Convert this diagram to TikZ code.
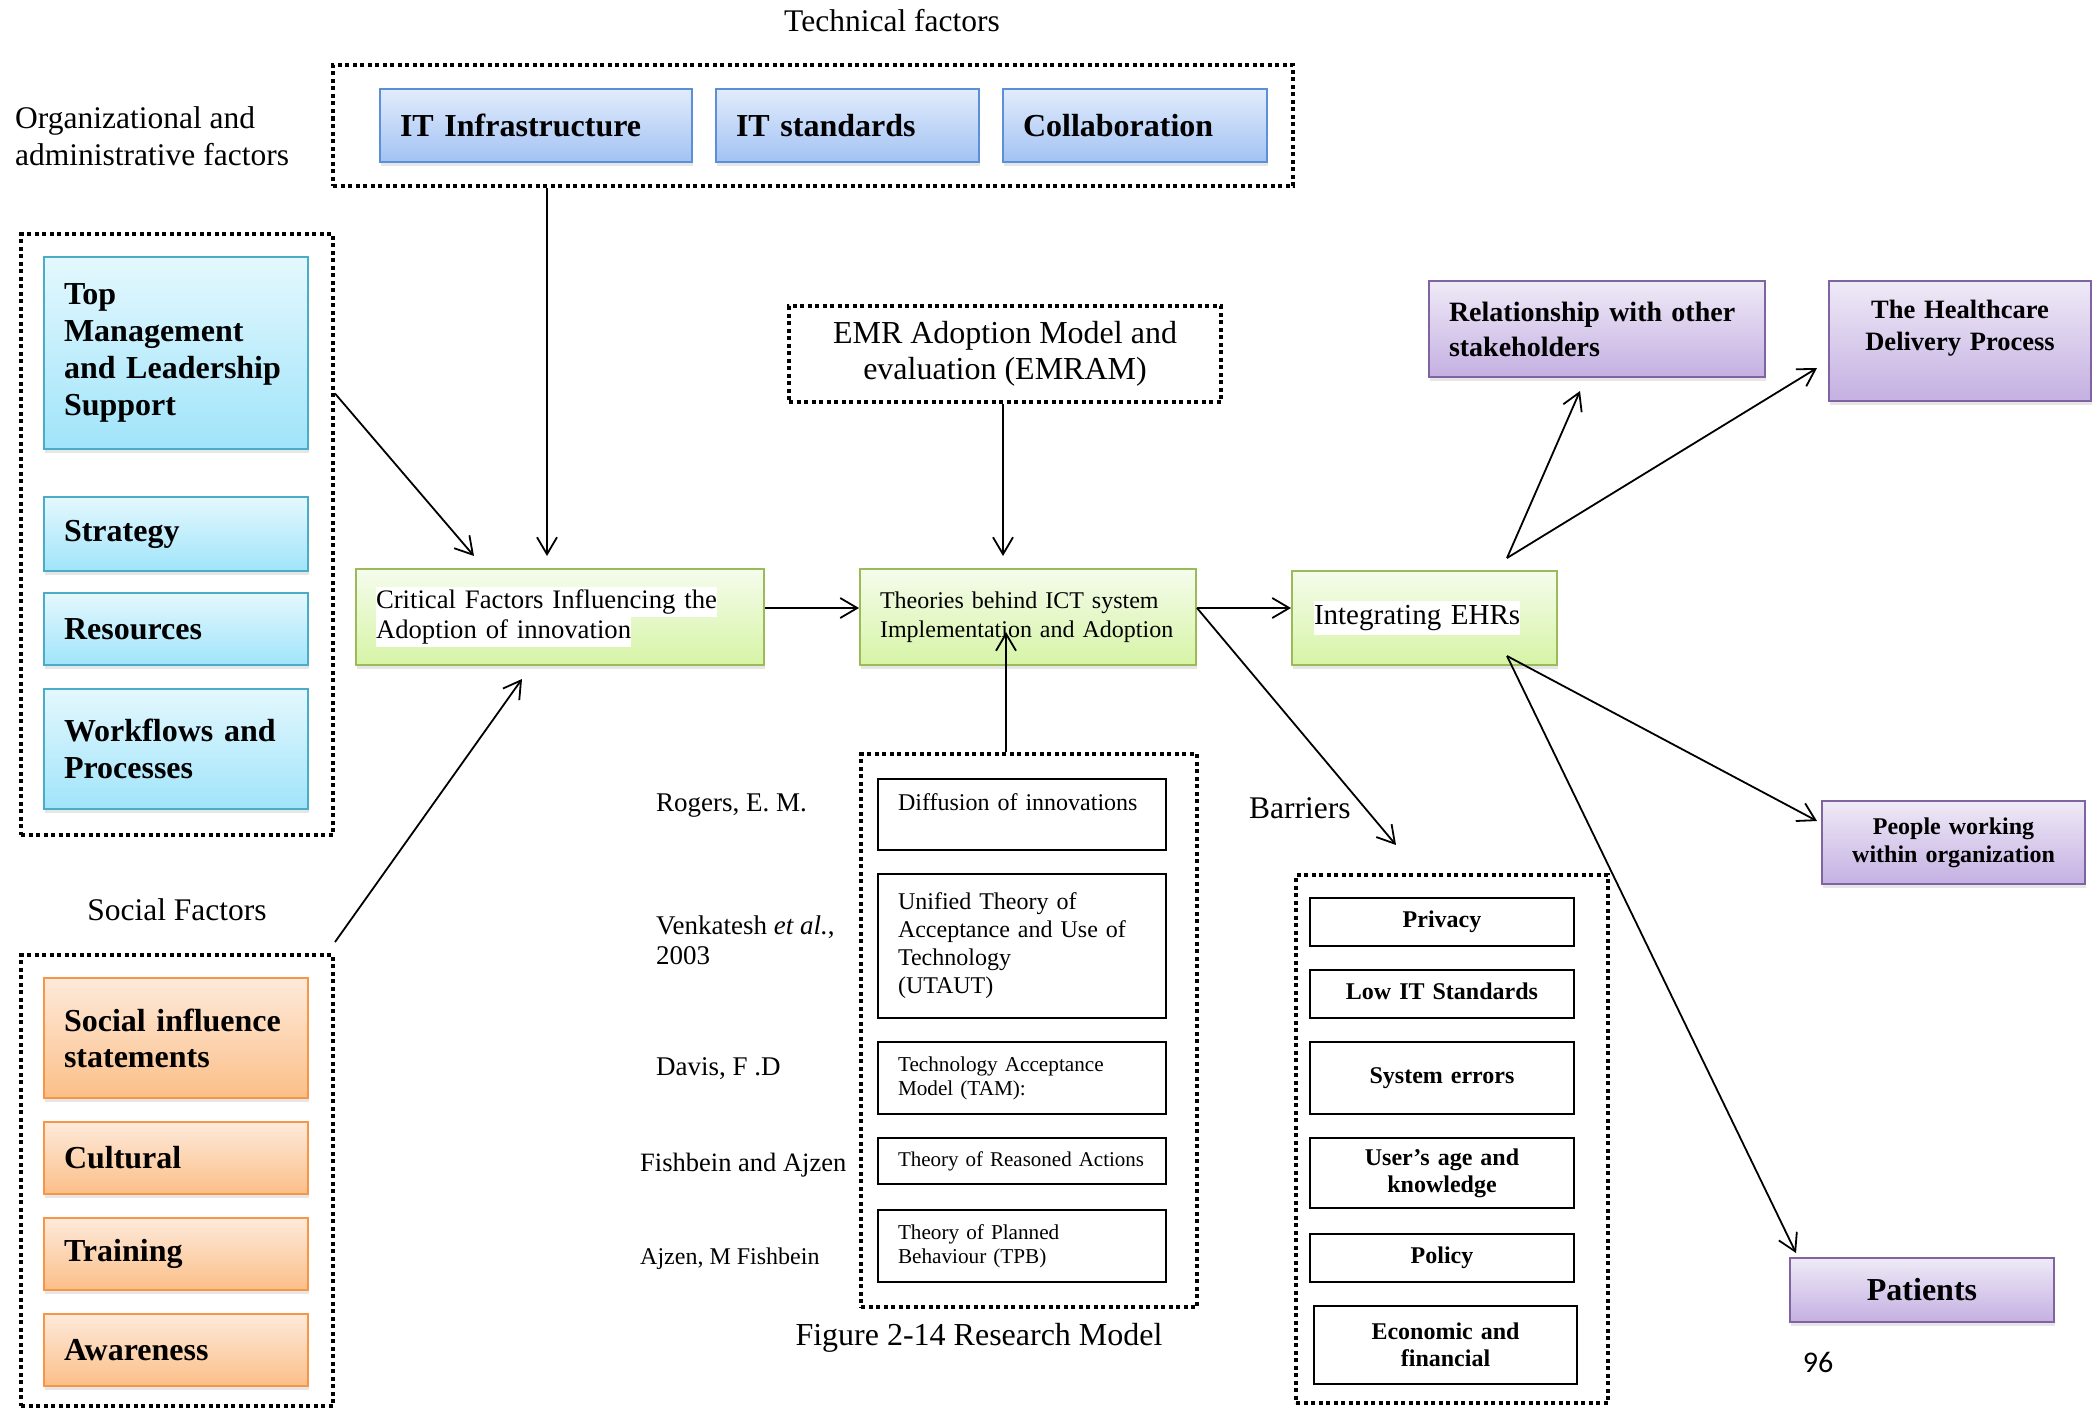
\documentclass[tikz,border=0pt]{standalone}
\usepackage{fontspec}
\setmainfont{Liberation Serif}
\newfontfamily\numfont{Carlito}
\usetikzlibrary{arrows.meta,shadows}

\newcommand{\fsz}[2]{\fontsize{#1}{#2}\selectfont}
\newcommand{\wbg}[1]{{\setlength{\fboxsep}{0pt}\colorbox{white}{\strut #1}}}
\hyphenpenalty=10000

\definecolor{blueT}{HTML}{E2ECFC}
\definecolor{blueB}{HTML}{A2C2F3}
\definecolor{blueD}{HTML}{5B8FD6}
\definecolor{cyanT}{HTML}{E4F8FE}
\definecolor{cyanB}{HTML}{A0E4FA}
\definecolor{cyanD}{HTML}{4BACC6}
\definecolor{orgT}{HTML}{FEEADB}
\definecolor{orgB}{HTML}{FBBF88}
\definecolor{orgD}{HTML}{F79646}
\definecolor{grnT}{HTML}{F5FCEC}
\definecolor{grnB}{HTML}{D6F4A6}
\definecolor{grnD}{HTML}{9BBB59}
\definecolor{purT}{HTML}{EFEAF7}
\definecolor{purB}{HTML}{C4B0E2}
\definecolor{purD}{HTML}{8064A2}

\tikzset{
  grp/.style={draw, line width=4pt, dash pattern=on 4pt off 3.5pt,
    anchor=north west, inner sep=0pt},
  sbox/.style={draw, line width=2pt, anchor=north west, inner ysep=0pt,
    drop shadow={shadow xshift=1pt, shadow yshift=-4pt, opacity=0.2}},
  bluebox/.style={sbox, top color=blueT, bottom color=blueB, draw=blueD,
    font=\fsz{32}{37}\bfseries},
  cyanbox/.style={sbox, top color=cyanT, bottom color=cyanB, draw=cyanD,
    font=\fsz{32}{37}\bfseries},
  orangebox/.style={sbox, top color=orgT, bottom color=orgB, draw=orgD,
    font=\fsz{32}{36}\bfseries},
  greenbox/.style={sbox, top color=grnT, bottom color=grnB, draw=grnD},
  purplebox/.style={sbox, top color=purT, bottom color=purB, draw=purD},
  lefttext/.style={align=left, inner xsep=20pt, text width=#1},
  midtext/.style={align=center, inner xsep=10pt, text width=#1},
  plainbox/.style={draw, line width=2pt, anchor=north west, fill=white,
    inner ysep=0pt},
  barbox/.style={plainbox, font=\fsz{24}{27}\bfseries},
  arr/.style={line width=1.8pt,
    -{Straight Barb[length=17pt, width=20pt, line width=1.8pt]}},
  lbl/.style={font=\fsz{31.5}{37}},
  auth/.style={font=\fsz{27}{30}, anchor=west, align=left, inner sep=0pt},
}

\begin{document}
\begin{tikzpicture}[x=1pt, y=-1pt]
\useasboundingbox (0,0) rectangle (2092,1408);

% ---- technical factors ----
\node[lbl] (techlbl) at (892,21) {Technical factors};
\node[grp, minimum width=960pt, minimum height=121pt] (techgrp) at (331,63) {};
\node[bluebox, lefttext=272pt, minimum width=312pt, minimum height=73pt] (itinf) at (379,88) {IT Infrastructure};
\node[bluebox, lefttext=223pt, minimum width=263pt, minimum height=73pt] (itstd) at (715,88) {IT standards};
\node[bluebox, lefttext=224pt, minimum width=264pt, minimum height=73pt] (collab) at (1002,88) {Collaboration};

% ---- organizational and administrative factors ----
\node[lbl, anchor=west, align=left, inner sep=0pt] (orglbl) at (15,136) {Organizational and\\administrative factors};
\node[grp, minimum width=312pt, minimum height=601pt] (orggrp) at (19,232) {};
\node[cyanbox, lefttext=224pt, minimum width=264pt, minimum height=192pt] (topmgmt) at (43,256) {Top\\Management\\and Leadership\\Support};
\node[cyanbox, lefttext=224pt, minimum width=264pt, minimum height=74pt] (strat) at (43,496) {Strategy};
\node[cyanbox, lefttext=224pt, minimum width=264pt, minimum height=72pt] (resrc) at (43,592) {Resources};
\node[cyanbox, lefttext=224pt, minimum width=264pt, minimum height=120pt] (wflow) at (43,688) {Workflows and\\Processes};

% ---- social factors ----
\node[lbl] (soclbl) at (177,910) {Social Factors};
\node[grp, minimum width=312pt, minimum height=451pt] (socgrp) at (19,953) {};
\node[orangebox, lefttext=224pt, minimum width=264pt, minimum height=120pt] (socinf) at (43,977) {Social influence\\statements};
\node[orangebox, lefttext=224pt, minimum width=264pt, minimum height=72pt] (cult) at (43,1121) {Cultural};
\node[orangebox, lefttext=224pt, minimum width=264pt, minimum height=72pt] (train) at (43,1217) {Training};
\node[orangebox, lefttext=224pt, minimum width=264pt, minimum height=72pt] (aware) at (43,1313) {Awareness};

% ---- central chain ----
\node[greenbox, lefttext=368pt, minimum width=408pt, minimum height=96pt, font=\fsz{26.7}{30}] (crit) at (355,568)
  {\wbg{Critical Factors Influencing the}\\\wbg{Adoption of innovation}};
\node[grp, minimum width=432pt, minimum height=96pt, align=center, font=\fsz{32}{36}] (emr) at (787,304)
  {EMR Adoption Model and\\evaluation (EMRAM)};
\node[greenbox, lefttext=296pt, minimum width=336pt, minimum height=96pt, font=\fsz{24}{29}] (theo) at (859,568)
  {Theories behind ICT system\\Implementation and Adoption};
\node[greenbox, align=left, inner xsep=22pt, text width=221pt, minimum width=265pt, minimum height=94pt, font=\fsz{29}{34}] (integ) at (1291,570)
  {\wbg{Integrating EHRs}};

% ---- outcomes ----
\node[purplebox, lefttext=296pt, minimum width=336pt, minimum height=96pt, font=\fsz{28}{35}\bfseries] (relat) at (1428,280)
  {Relationship with other\\stakeholders};
\node[purplebox, midtext=242pt, minimum width=262pt, minimum height=120pt, font=\fsz{26.5}{32}\bfseries] (hcare) at (1828,280)
  {The Healthcare\\Delivery Process\\\mbox{}};
\node[purplebox, midtext=243pt, minimum width=263pt, minimum height=83pt, font=\fsz{24}{28}\bfseries] (people) at (1821,800)
  {People working\\within organization};
\node[purplebox, midtext=244pt, minimum width=264pt, minimum height=64pt, font=\fsz{32}{36}\bfseries] (patients) at (1789,1257)
  {Patients};
\node[font=\numfont\fsz{30}{34}] (pagenum) at (1818,1362) {96};

% ---- theories ----
\node[grp, minimum width=336pt, minimum height=553pt] (thgrp) at (859,752) {};
\node[plainbox, lefttext=248pt, minimum width=288pt, minimum height=71pt, font=\fsz{24}{24}] (diffu) at (877,778)
  {Diffusion of innovations\\\mbox{}};
\node[plainbox, lefttext=248pt, minimum width=288pt, minimum height=144pt, font=\fsz{24}{28}] (utaut) at (877,873)
  {Unified Theory of\\Acceptance and Use of\\Technology\\(UTAUT)};
\node[plainbox, lefttext=248pt, minimum width=288pt, minimum height=72pt, font=\fsz{21.2}{24}] (tam) at (877,1041)
  {Technology Acceptance\\Model (TAM):};
\node[plainbox, lefttext=248pt, minimum width=288pt, minimum height=46pt, font=\fsz{21}{24}] (tra) at (877,1137)
  {Theory of Reasoned Actions};
\node[plainbox, lefttext=248pt, minimum width=288pt, minimum height=72pt, font=\fsz{21.2}{24}] (tpb) at (877,1209)
  {Theory of Planned\\Behaviour (TPB)};

\node[auth] (rogers) at (656,806) {Rogers, E. M.};
\node[auth] (venk) at (656,940) {Venkatesh \textit{et al.},\\2003};
\node[auth] (davis) at (656,1069) {Davis, F .D};
\node[auth, font=\fsz{26.5}{30}] (fishaj) at (640,1165) {Fishbein and Ajzen};
\node[auth, font=\fsz{24}{28}] (ajfish) at (640,1259) {Ajzen, M Fishbein};
\node[lbl, font=\fsz{32}{36}] (caption) at (979,1338) {Figure 2-14 Research Model};

% ---- barriers ----
\node[lbl, anchor=west, inner sep=0pt] (barlbl) at (1249,808) {Barriers};
\node[grp, minimum width=312pt, minimum height=528pt] (bargrp) at (1294,873) {};
\node[barbox, midtext=244pt, minimum width=264pt, minimum height=48pt] (privacy) at (1309,897) {\strut Privacy};
\node[barbox, midtext=244pt, minimum width=264pt, minimum height=48pt] (lowit) at (1309,969) {\strut Low IT Standards};
\node[barbox, midtext=244pt, minimum width=264pt, minimum height=72pt] (syserr) at (1309,1041) {\strut System errors};
\node[barbox, midtext=244pt, minimum width=264pt, minimum height=70pt] (userage) at (1309,1137) {User’s age and\\knowledge};
\node[barbox, midtext=244pt, minimum width=264pt, minimum height=48pt] (policy) at (1309,1233) {\strut Policy};
\node[barbox, midtext=243pt, minimum width=263pt, minimum height=78pt] (econ) at (1313,1305) {Economic and\\financial};

% ---- free ends of the connectors ----
\coordinate (itend) at (547,556);
\coordinate (tmend) at (474,556);
\coordinate (socend) at (522,679);
\coordinate (emrend) at (1003,556);
\coordinate (thup) at (1006,632);
\coordinate (barend) at (1396,845);
\coordinate (intop) at (1507,558);
\coordinate (intbot) at (1507,656);
\coordinate (relend) at (1580,391);
\coordinate (hcend) at (1817,368);
\coordinate (pplend) at (1817,821);
\coordinate (patend) at (1796,1253);

% ---- connectors ----
\draw[arr] (techgrp.south -| itend) -- (itend);
\draw[arr] ([yshift=141pt]orggrp.east) -- (tmend);
\draw[arr] ([yshift=11pt]socgrp.north east) -- (socend);
\draw[arr] (emr.south -| emrend) -- (emrend);
\draw[arr] ([yshift=9pt]crit.east) -- ([yshift=9pt]crit.east -| theo.west);
\draw[arr] (thgrp.north -| thup) -- (thup);
\draw[arr] ([yshift=9pt]theo.east) -- ([yshift=9pt]theo.east -| integ.west);
\draw[arr] ([yshift=9pt]theo.east) -- (barend);
\draw[arr] (intop) -- (relend);
\draw[arr] (intop) -- (hcend);
\draw[arr] (intbot) -- (pplend);
\draw[arr] (intbot) -- (patend);
\end{tikzpicture}
\end{document}
